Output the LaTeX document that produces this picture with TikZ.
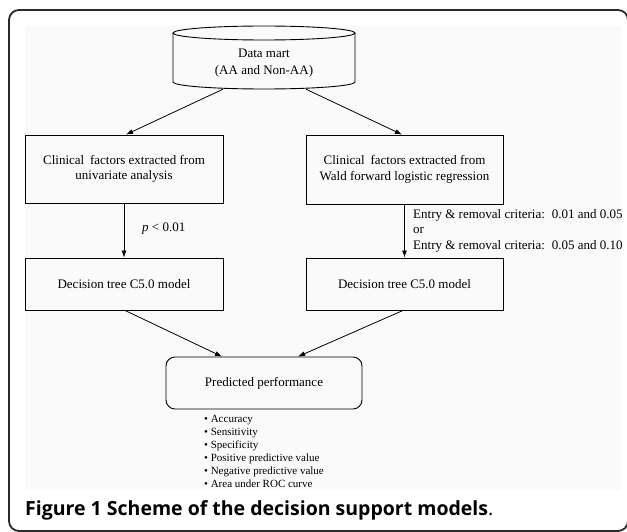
\documentclass[tikz,border=0pt]{standalone}
\usepackage{fontspec}
\setmainfont{Liberation Serif}
\newfontfamily\capfont{Open Sans}
\usetikzlibrary{arrows.meta,calc}
\definecolor{bgcol}{HTML}{FAFAFA}
\definecolor{framecol}{HTML}{2A2A2A}
\begin{document}
\begin{tikzpicture}[x=1pt,y=-1pt,
  box/.style={draw, line width=0.9pt, minimum width=198pt, minimum height=68pt, align=center,
    font=\fontsize{13}{15.5}\selectfont, inner sep=0pt},
  dbox/.style={box, minimum height=52pt},
  arr/.style={-{Latex[length=7pt,width=5pt]}, line width=0.8pt},
  lab/.style={font=\fontsize{13}{15.5}\selectfont, inner sep=0pt, anchor=west},
]
\useasboundingbox (0,0) rectangle (627,532);
\fill[white] (0,0) rectangle (627,532);
\draw[line width=1.8pt, color=framecol, rounded corners=10pt] (9,10) rectangle (628,531);
\fill[bgcol] (25,26) rectangle (621,490);

% data mart cylinder
\node[minimum width=182pt, minimum height=63pt, inner sep=0pt] (dm) at (264,57.5) {};
\draw[line width=0.9pt] (264,33) ellipse[x radius=91pt, y radius=7pt];
\draw[line width=0.9pt] (173,33) -- (173,82) arc[start angle=180, end angle=360, x radius=91pt, y radius=7pt] -- (355,33);
\node[align=center, inner sep=0pt, font=\fontsize{13}{17.7}\selectfont] (dmtext) at (264,63) {Data mart\\(AA and Non-AA)};

% boxes
\node[box] (c1) at (124,169) {Clinical\hspace{2.5pt} factors extracted from\\univariate analysis};
\node[box, minimum width=197pt, minimum height=69pt] (c2) at (404.5,169.5) {Clinical\hspace{2.5pt} factors extracted from\\Wald forward logistic regression};
\node[dbox] (d1) at (124,284) {Decision tree C5.0 model};
\node[dbox, minimum width=197pt] (d2) at (404.5,284) {Decision tree C5.0 model};
\node[box, rounded corners=9pt, minimum width=196pt, minimum height=52pt] (pp) at (264,383) {Predicted performance};

% connectors
\draw[arr] ($(dm.south)+(-41,0)$) -- ($(c1.north)+(2,0)$);
\draw[arr] ($(dm.south)+(42,0)$) -- ($(c2.north)+(-2.5,0)$);
\draw[arr] (c1.south) -- (d1.north);
\draw[arr] (c2.south) -- (d2.north);
\draw[arr] ($(d1.south)+(1,0)$) -- ($(pp.north)+(-42,0)$);
\draw[arr] ($(d2.south)+(-1.5,0)$) -- ($(pp.north)+(34,0)$);

% labels
\node[lab] (plab) at (142,229) {\textit{p} < 0.01};
\node[lab] (e1) at (413,215) {Entry \& removal criteria:\hspace{2.5pt} 0.01 and 0.05};
\node[lab] (e2) at (413,230.5) {or};
\node[lab] (e3) at (413,246) {Entry \& removal criteria:\hspace{2.5pt} 0.05 and 0.10};

% bullet list
\node[anchor=north west, align=left, inner sep=0pt, font=\fontsize{11}{13}\selectfont] (bl) at (204,415)
  {• Accuracy\\• Sensitivity\\• Specificity\\• Positive predictive value\\• Negative predictive value\\• Area under ROC curve};

% caption
\node[anchor=base west, inner sep=0pt, font=\capfont\fontsize{19.5}{22}\selectfont\bfseries] (cap) at (25,515)
  {Figure 1 Scheme of the decision support models{\mdseries .}};
\end{tikzpicture}
\end{document}
